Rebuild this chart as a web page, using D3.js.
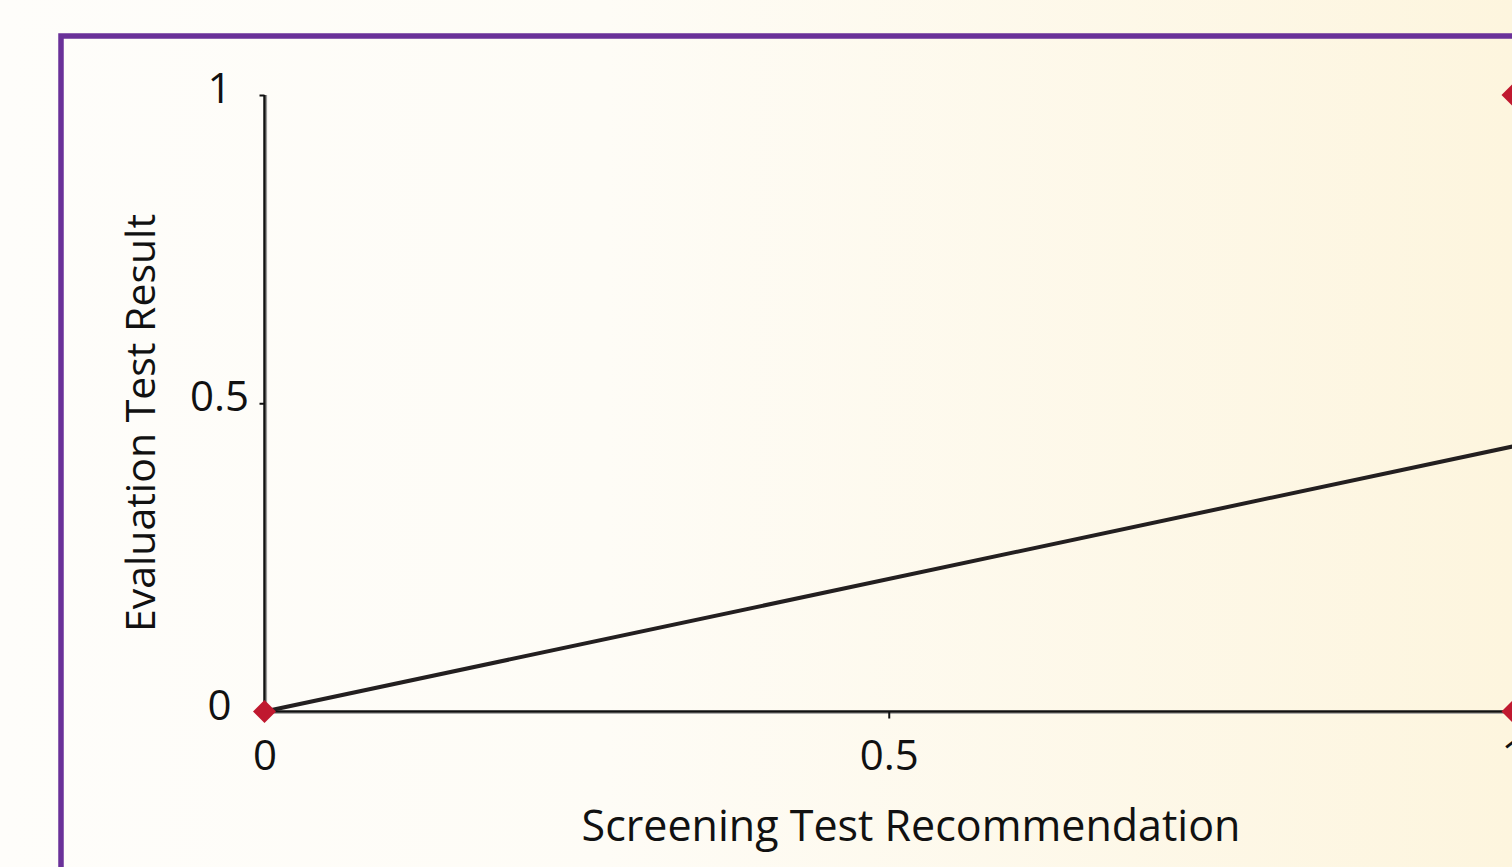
<!DOCTYPE html>
<html>
<head>
<meta charset="utf-8">
<script src="https://cdn.jsdelivr.net/npm/d3@7"></script>
<style>
  html, body { margin: 0; padding: 0; overflow: hidden; }
  svg { display: block; }
  text { font-family: "Open Sans", "Noto Sans", sans-serif; fill: #111; }
</style>
</head>
<body>
<svg id="chart" width="1512" height="867"></svg>
<script>
// Data
const points = [
  { x: 0, y: 0 },
  { x: 1, y: 0 },
  { x: 1, y: 1 }
];
const fitLine = [
  { x: 0, y: 0 },
  { x: 1, y: 0.43 }
];
const xTicks = [0, 0.5, 1];
const yTicks = [0, 0.5, 1];
const xTitle = "Screening Test Recommendation";
const yTitle = "Evaluation Test Result";

const W = 1512, H = 867;
const svg = d3.select("#chart");

// background gradient
const defs = svg.append("defs");
const grad = defs.append("linearGradient").attr("id", "bg")
  .attr("x1", "0%").attr("x2", "100%").attr("y1", "0%").attr("y2", "0%");
grad.append("stop").attr("offset", "0%").attr("stop-color", "#fefdfa");
grad.append("stop").attr("offset", "40%").attr("stop-color", "#fefcf6");
grad.append("stop").attr("offset", "100%").attr("stop-color", "#fdf5de");
svg.append("rect").attr("width", W).attr("height", H).attr("fill", "url(#bg)");

// purple frame
svg.append("rect")
  .attr("x", 61).attr("y", 36)
  .attr("width", 1600).attr("height", 1000)
  .attr("fill", "none").attr("stroke", "#6a3199").attr("stroke-width", 5.5);

const x = d3.scaleLinear().domain([0, 1]).range([264.5, 1513]);
const y = d3.scaleLinear().domain([0, 1]).range([711.5, 95]);

// Axes
const fmt = d => d === 0 ? "0" : d === 1 ? "1" : d3.format(".1f")(d);
const xAxis = d3.axisBottom(x).tickValues(xTicks).tickSize(7).tickPadding(21).tickFormat(fmt);
const yAxis = d3.axisLeft(y).tickValues(yTicks).tickSize(5).tickPadding(20).tickFormat(fmt);

// shadows of axis lines
svg.append("line").attr("x1", x(0) + 2).attr("x2", x(0) + 2)
  .attr("y1", y(1)).attr("y2", y(0))
  .attr("stroke", "#9a9a9a").attr("stroke-width", 1.2);
svg.append("line").attr("x1", x(0)).attr("x2", 1520)
  .attr("y1", y(0) + 1.8).attr("y2", y(0) + 1.8)
  .attr("stroke", "#9a9a9a").attr("stroke-width", 1);

const gx = svg.append("g").attr("transform", `translate(0,${y(0)})`).call(xAxis);
gx.select(".domain").attr("d", `M${x(0)},0H1520`).attr("stroke", "#111").attr("stroke-width", 2.5);
gx.selectAll(".tick line").attr("stroke", "#111").attr("stroke-width", 2);
gx.selectAll(".tick text").attr("font-size", 42).attr("fill", "#111")
  .attr("font-family", '"Open Sans", sans-serif').attr("dy", "0.72em");

const gy = svg.append("g").attr("transform", `translate(${x(0)},0)`).call(yAxis);
gy.select(".domain").attr("d", `M0,${y(1)}V${y(0)}`).attr("stroke", "#111").attr("stroke-width", 2.5);
gy.selectAll(".tick line").attr("stroke", "#111").attr("stroke-width", 2);
gy.selectAll(".tick text").attr("font-size", 42).attr("fill", "#111")
  .attr("font-family", '"Open Sans", sans-serif')
  .attr("text-anchor", "middle")
  .attr("x", -45)
  .attr("dy", "0.18em");

// fit line
svg.append("path")
  .datum(fitLine)
  .attr("d", d3.line().x(d => x(d.x)).y(d => y(d.y)))
  .attr("fill", "none").attr("stroke", "#231f20").attr("stroke-width", 4);

// diamonds
svg.selectAll(".pt").data(points).enter().append("path")
  .attr("class", "pt")
  .attr("transform", d => `translate(${x(d.x)},${y(d.y)})`)
  .attr("d", d3.symbol().type(d3.symbolDiamond2).size(2 * 13 * 13))
  .attr("fill", "#c0192f");

// titles
svg.append("text")
  .attr("x", 911).attr("y", 841)
  .attr("text-anchor", "middle")
  .attr("font-size", 43)
  .text(xTitle);

svg.append("text")
  .attr("transform", `translate(155,423) rotate(-90)`)
  .attr("text-anchor", "middle")
  .attr("font-size", 41)
  .text(yTitle);
</script>
</body>
</html>
